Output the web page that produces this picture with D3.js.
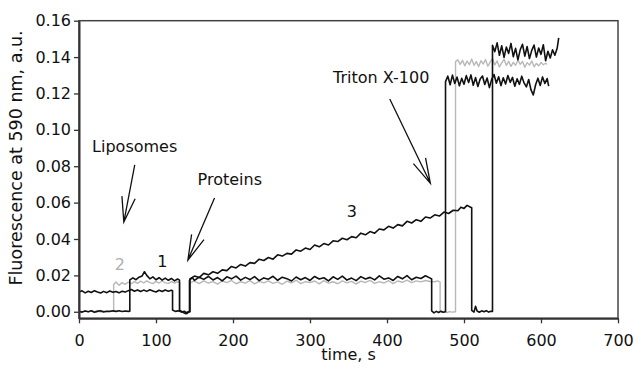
<!DOCTYPE html>
<html>
<head>
<meta charset="utf-8">
<script src="https://cdn.jsdelivr.net/npm/d3@7"></script>
<style>
  body { margin: 0; background: #fff; }
  svg { display: block; }
  text { font-family: "DejaVu Sans", sans-serif; }
</style>
</head>
<body>
<div id="chart"></div>
<script>
// ticks
var xTicks = [0, 100, 200, 300, 400, 500, 600, 700];
var yTicks = [0.00, 0.02, 0.04, 0.06, 0.08, 0.10, 0.12, 0.14, 0.16];

// trace 1 (black): liposomes at ~66 s, proteins at ~131-144 s, triton at ~476 s
var trace1 = [
  [0,0.0003],[4,-0.0002],[8,0.0004],[12,0.0000],[16,0.0005],[20,-0.0003],[24,0.0002],[28,0.0006],
  [32,-0.0001],[36,0.0003],[40,0.0001],[44,0.0005],[48,0.0002],[52,0.0006],[56,0.0001],[60,0.0004],
  [64,0.0002],[66,0.0003],[66,0.0175],[70,0.0186],[74,0.0176],[78,0.0190],[82,0.0197],[85,0.0220],
  [88,0.0200],[92,0.0181],[96,0.0192],[100,0.0176],[104,0.0187],[108,0.0174],[112,0.0185],[116,0.0173],
  [120,0.0183],[124,0.0170],[128,0.0180],[130.5,0.0174],[130.5,0.0008],[134,0.0000],[138,-0.0010],
  [141,-0.0002],[143.5,0.0000],[143.5,0.0172],[147,0.0188],
  [150,0.0172],[156,0.0190],[162,0.0178],[168,0.0194],[174,0.0175],[180,0.0188],[186,0.0170],[192,0.0192],
  [198,0.0181],[204,0.0196],[210,0.0174],[216,0.0189],[222,0.0177],[228,0.0193],[234,0.0171],[240,0.0186],
  [246,0.0179],[252,0.0195],[258,0.0173],[264,0.0190],[270,0.0182],[276,0.0169],[282,0.0191],[288,0.0176],
  [294,0.0188],[300,0.0172],[306,0.0194],[312,0.0180],[318,0.0187],[324,0.0170],[330,0.0192],[336,0.0178],
  [342,0.0196],[348,0.0174],[354,0.0185],[360,0.0171],[366,0.0193],[372,0.0180],[378,0.0189],[384,0.0175],
  [390,0.0197],[396,0.0179],[402,0.0186],[408,0.0172],[414,0.0194],[420,0.0181],[426,0.0199],[432,0.0176],
  [438,0.0190],[444,0.0183],[450,0.0198],[456,0.0185],[458,0.0180],
  [458,0.0005],[461,-0.0006],[464,0.0002],[467,-0.0004],[470,0.0003],[473,-0.0003],[476,0.0000],[476,0.1265],
  [479,0.1295],[482,0.1248],[485,0.1301],[488,0.1255],[491,0.1290],[494,0.1242],[497,0.1283],[500,0.1251],
  [503,0.1298],[506,0.1260],[509,0.1302],[512,0.1245],[515,0.1287],[518,0.1238],[521,0.1280],[524,0.1296],
  [527,0.1249],[530,0.1285],[533,0.1232],[536,0.1279],[539,0.1304],[542,0.1256],[545,0.1292],[548,0.1243],
  [551,0.1286],[554,0.1252],[557,0.1299],[560,0.1261],[563,0.1288],[566,0.1240],[569,0.1281],[572,0.1250],
  [575,0.1295],[578,0.1258],[581,0.1236],[584,0.1277],[587,0.1220],[590,0.1192],[593,0.1248],[596,0.1284],
  [599,0.1244],[602,0.1291],[605,0.1255],[608,0.1282],[610,0.1240]
];

// trace 2 (grey)
var trace2 = [
  [0,0.0004],[4,-0.0003],[8,0.0006],[12,-0.0001],[16,0.0005],[20,0.0000],[24,0.0007],[28,-0.0002],
  [32,0.0004],[36,0.0001],[40,0.0006],[45,0.0002],[45,0.0150],[48,0.0164],[52,0.0146],[56,0.0160],
  [60,0.0151],[64,0.0163],[68,0.0154],[72,0.0166],[76,0.0156],[80,0.0168],[84,0.0158],[88,0.0170],
  [92,0.0160],[96,0.0155],[100,0.0167],[104,0.0158],[108,0.0169],[112,0.0159],[116,0.0156],[120,0.0166],
  [124,0.0157],[128,0.0165],[131,0.0160],[131,0.0005],[135,-0.0003],[139,0.0002],[142,-0.0004],
  [144.5,0.0000],[144.5,0.0160],
  [150,0.0168],[156,0.0155],[162,0.0170],[168,0.0158],[174,0.0166],[180,0.0152],[186,0.0169],[192,0.0160],
  [198,0.0172],[204,0.0154],[210,0.0165],[216,0.0157],[222,0.0171],[228,0.0153],[234,0.0167],[240,0.0159],
  [246,0.0170],[252,0.0156],[258,0.0164],[264,0.0151],[270,0.0168],[276,0.0158],[282,0.0173],[288,0.0155],
  [294,0.0166],[300,0.0160],[306,0.0169],[312,0.0153],[318,0.0171],[324,0.0157],[330,0.0165],[336,0.0154],
  [342,0.0170],[348,0.0159],[354,0.0167],[360,0.0152],[366,0.0168],[372,0.0161],[378,0.0172],[384,0.0156],
  [390,0.0166],[396,0.0158],[402,0.0171],[408,0.0155],[414,0.0169],[420,0.0162],[426,0.0174],[432,0.0160],
  [438,0.0170],[444,0.0164],[450,0.0172],[456,0.0166],[462,0.0165],[466,0.0170],[469,0.0163],
  [469,0.0004],[472,-0.0003],[475,0.0003],[478,-0.0005],[481,0.0001],[484,-0.0002],[489,0.0000],[489,0.1375],
  [492,0.1385],[495,0.1360],[498,0.1382],[501,0.1352],[504,0.1378],[507,0.1358],[510,0.1390],[513,0.1355],
  [516,0.1375],[519,0.1348],[522,0.1380],[525,0.1362],[528,0.1386],[531,0.1350],[534,0.1372],[537,0.1392],
  [540,0.1357],[543,0.1379],[546,0.1346],[549,0.1368],[552,0.1388],[555,0.1354],[558,0.1377],[561,0.1349],
  [564,0.1371],[567,0.1355],[570,0.1383],[573,0.1360],[576,0.1376],[579,0.1344],[582,0.1369],[585,0.1356],
  [588,0.1378],[591,0.1347],[594,0.1365],[597,0.1352],[600,0.1370],[603,0.1358],[606,0.1366],[608,0.1360]
];

// trace 3 (black): rising after proteins
var trace3 = [
  [0,0.0108],[4,0.0115],[8,0.0104],[12,0.0113],[16,0.0106],[20,0.0116],[24,0.0109],[28,0.0103],
  [32,0.0112],[36,0.0105],[40,0.0114],[44,0.0107],[48,0.0111],[52,0.0104],[56,0.0113],[60,0.0108],
  [64,0.0116],[68,0.0122],[72,0.0113],[76,0.0120],[80,0.0111],[84,0.0119],[88,0.0112],[92,0.0121],
  [96,0.0114],[100,0.0109],[104,0.0118],[108,0.0111],[112,0.0120],[116,0.0113],[120,0.0118],
  [121.5,0.0115],[121.5,0.0010],[125,0.0002],[129,0.0005],[133,-0.0001],[137,0.0003],[140,-0.0010],
  [143,0.0002],[144,0.0000],[144,0.0180],
  [150,0.0196],[156,0.0188],[162,0.0211],[168,0.0203],[174,0.0220],[180,0.0211],[186,0.0230],[192,0.0226],
  [198,0.0249],[204,0.0241],[210,0.0260],[216,0.0251],[222,0.0270],[228,0.0266],[234,0.0289],[240,0.0282],
  [246,0.0298],[252,0.0289],[258,0.0313],[264,0.0306],[270,0.0321],[276,0.0317],[282,0.0340],[288,0.0333],
  [294,0.0350],[300,0.0342],[306,0.0367],[312,0.0357],[318,0.0375],[324,0.0367],[330,0.0390],[336,0.0386],
  [342,0.0404],[348,0.0396],[354,0.0413],[360,0.0407],[366,0.0432],[372,0.0423],[378,0.0441],[384,0.0432],
  [390,0.0455],[396,0.0450],[402,0.0470],[408,0.0460],[414,0.0479],[420,0.0472],[426,0.0497],[432,0.0488],
  [438,0.0506],[444,0.0497],[450,0.0521],[456,0.0515],[462,0.0533],[468,0.0526],[474,0.0548],[480,0.0540],
  [486,0.0558],[492,0.0555],[496,0.0575],[500,0.0568],[504,0.0585],[508,0.0576],[510,0.0572],
  [510,0.0008],[513,-0.0002],[515,0.0030],[517,0.0004],[520,-0.0003],[523,0.0005],[526,0.0000],
  [529,0.0006],[532,-0.0002],[535,0.0003],[537,0.0002],[537,0.1465],
  [540,0.1430],[543,0.1478],[546,0.1410],[549,0.1462],[552,0.1398],[555,0.1455],[558,0.1420],[561,0.1475],
  [564,0.1402],[567,0.1448],[570,0.1385],[573,0.1440],[576,0.1470],[579,0.1405],[582,0.1458],[585,0.1392],
  [588,0.1437],[591,0.1466],[594,0.1400],[597,0.1450],[600,0.1415],[603,0.1468],[606,0.1380],[609,0.1432],
  [612,0.1395],[615,0.1440],[618,0.1410],[621,0.1448],[623,0.1505]
];

// annotations in data units: label position and arrow [from, to]
var notes = [
  {text: "Liposomes",    t: 17,  v: 0.0876, from: [72.4, 0.0807], to: [58.2, 0.0493]},
  {text: "Proteins",     t: 154, v: 0.0697, from: [176, 0.0625],  to: [141.4, 0.0284]},
  {text: "Triton X-100", t: 330, v: 0.1256, from: [403.6, 0.117], to: [456.3, 0.0706]}
];
var traceLabels = [
  {text: "1", t: 108.3, v: 0.0247, color: "#111"},
  {text: "2", t: 53,    v: 0.0229, color: "#b0b0b0"},
  {text: "3", t: 354.5, v: 0.0522, color: "#111"}
];

var width = 636,
    height = 368,
    margin = {top: 20.7, right: 18, bottom: 49.7, left: 79};

var svg = d3.select("#chart")
   .append("svg")
   .attr("width", width)
   .attr("height", height);

var innerW = width - margin.left - margin.right,
    innerH = height - margin.top - margin.bottom;

var g = svg.append("g")
   .attr("transform", `translate(${margin.left},${margin.top})`);

var x = d3.scaleLinear().domain([0, 700]).range([0, innerW]);
var y = d3.scaleLinear().domain([-0.0036, 0.16]).range([innerH, 0]);

var line = d3.line()
   .x(d => x(d[0]))
   .y(d => y(d[1]));

// traces, grey under the black ones
g.append("path").datum(trace2)
   .attr("fill", "none").attr("stroke", "#b8b8b8").attr("stroke-width", 1.4)
   .attr("stroke-linejoin", "round").attr("d", line);
g.append("path").datum(trace1)
   .attr("fill", "none").attr("stroke", "#111").attr("stroke-width", 1.6)
   .attr("stroke-linejoin", "round").attr("d", line);
g.append("path").datum(trace3)
   .attr("fill", "none").attr("stroke", "#111").attr("stroke-width", 1.6)
   .attr("stroke-linejoin", "round").attr("d", line);

// frame
g.append("rect")
   .attr("width", innerW).attr("height", innerH)
   .attr("fill", "none").attr("stroke", "#444").attr("stroke-width", 1.5);

// axes
var xAxis = d3.axisBottom(x).tickValues(xTicks).tickSize(5).tickPadding(11).tickSizeOuter(0);
var yAxis = d3.axisLeft(y).tickValues(yTicks).tickFormat(d3.format(".2f")).tickSize(5).tickPadding(3).tickSizeOuter(0);

var gx = g.append("g")
   .attr("class", "x axis")
   .attr("transform", `translate(0,${innerH})`)
   .call(xAxis);
var gy = g.append("g")
   .attr("class", "y axis")
   .call(yAxis);

[gx, gy].forEach(a => {
  a.select(".domain").attr("stroke", "#333").attr("stroke-width", 2);
  a.selectAll(".tick line").attr("stroke", "#333").attr("stroke-width", 1.3);
  a.selectAll(".tick text").attr("fill", "#111").style("font-size", "16px")
   .style("font-family", "'DejaVu Sans', sans-serif");
});

// axis titles
svg.append("text")
   .attr("x", margin.left + x(350)).attr("y", 360)
   .attr("text-anchor", "middle")
   .style("font-size", "16px").attr("fill", "#111")
   .text("time, s");
svg.append("text")
   .attr("transform", "translate(22,158) rotate(-90)")
   .attr("text-anchor", "middle")
   .style("font-size", "17.5px").attr("fill", "#111")
   .text("Fluorescence at 590 nm, a.u.");

// annotation arrows
function arrow(p0, p1) {
  var x0 = x(p0[0]), y0 = y(p0[1]), x1 = x(p1[0]), y1 = y(p1[1]);
  var ang = Math.atan2(y0 - y1, x0 - x1), len = 26, spread = 15 * Math.PI / 180;
  var path = d3.path();
  path.moveTo(x0, y0); path.lineTo(x1, y1);
  path.moveTo(x1 + len * Math.cos(ang - spread), y1 + len * Math.sin(ang - spread));
  path.lineTo(x1, y1);
  path.lineTo(x1 + len * Math.cos(ang + spread), y1 + len * Math.sin(ang + spread));
  return path.toString();
}

notes.forEach(n => {
  g.append("text")
     .attr("x", x(n.t)).attr("y", y(n.v))
     .style("font-size", "16px").attr("fill", "#111")
     .text(n.text);
  g.append("path")
     .attr("d", arrow(n.from, n.to))
     .attr("fill", "none").attr("stroke", "#111").attr("stroke-width", 1.3);
});

traceLabels.forEach(l => {
  g.append("text")
     .attr("x", x(l.t)).attr("y", y(l.v))
     .attr("text-anchor", "middle")
     .style("font-size", "16px").attr("fill", l.color)
     .text(l.text);
});
</script>
</body>
</html>
